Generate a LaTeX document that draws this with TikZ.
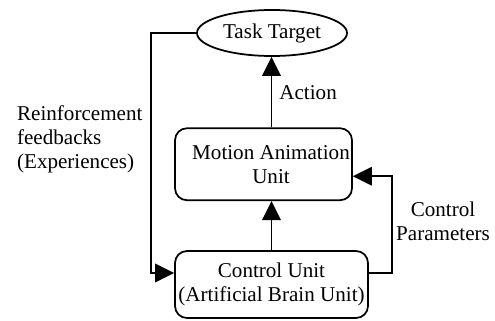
\documentclass[tikz,border=0pt]{standalone}
\usepackage{fontspec}
\setmainfont{Liberation Serif}
\usepackage{tikz}
\usetikzlibrary{arrows.meta,positioning,calc,shapes.geometric}

\begin{document}
\begin{tikzpicture}[
  box/.style={draw, rounded corners=0.24cm, align=center, line width=1pt,
    inner sep=1pt, font=\fontsize{12}{13.6}\selectfont},
  goal/.style={draw, ellipse, line width=1pt, minimum width=3cm,
    minimum height=0.92cm, inner sep=1pt, font=\fontsize{12}{13.6}\selectfont},
  op/.style={-{Triangle[length=0.38cm,width=0.37cm]}, line width=1pt},
  lab/.style={font=\fontsize{12}{13.6}\selectfont, inner sep=1pt}
]
\useasboundingbox (0,0) rectangle (9.9,6.4);
\node[box, minimum width=3.86cm, minimum height=1.34cm] (ctrl) at (5.43,0.71)
{Control Unit\\(Artificial Brain Unit)};
\node[box, minimum width=3.54cm, minimum height=1.44cm,
  above=0.98cm of ctrl.north west, anchor=south west,
  label={[lab, align=center, xshift=0.15cm]center:Motion Animation\\Unit}] (mau) {};
\node[goal] (tt) at (5.44,5.74) {Task Target};
\coordinate (fbk) at ($(tt.west)+(-0.9,0)$);
\coordinate (cpar) at ($(ctrl.east)+(0.46,0.23)$);
\draw[op] (ctrl.north) -- (mau.south -| ctrl.north);
\draw[op] (mau.north -| ctrl.north) -- node[lab, right=3pt]{Action} (tt.south -| ctrl.north);
\draw[op] (tt.west) -- (fbk) |- ([yshift=0.23cm]ctrl.west);
\draw[op] ([yshift=0.23cm]ctrl.east) -- (cpar) |- ([yshift=-0.24cm]mau.east);
\node[lab, align=left, anchor=west] (rfb) at (0.3,3.62)
{Reinforcement\\feedbacks\\(Experiences)};
\node[lab, align=center] (cpl) at (8.86,1.98) {Control\\Parameters};
\end{tikzpicture}
\end{document}
